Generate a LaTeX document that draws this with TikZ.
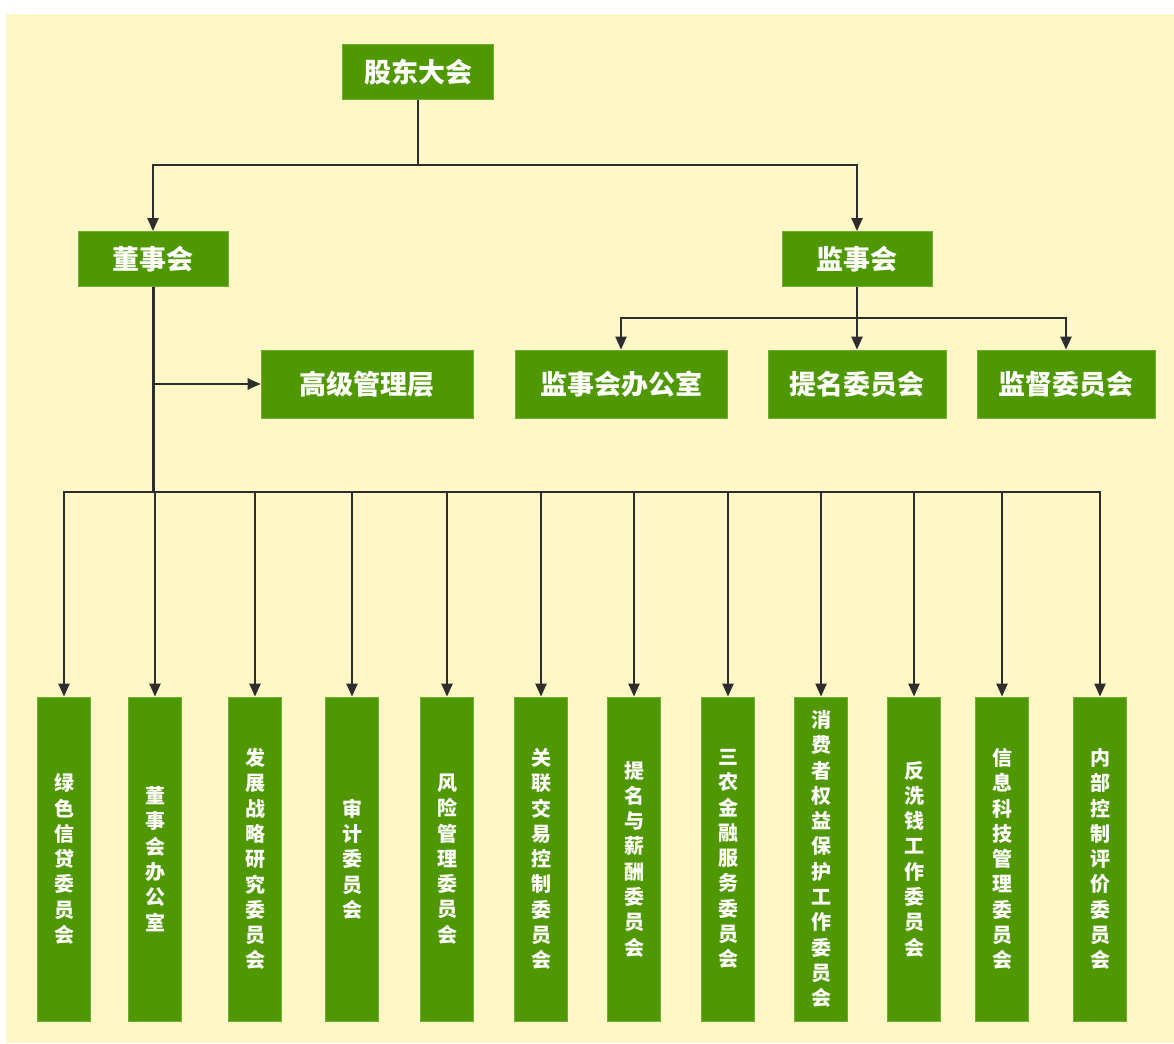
\documentclass[tikz,border=0pt]{standalone}
\usepackage{fontspec}
\newfontfamily\cjk{Noto Sans CJK SC}
\usetikzlibrary{arrows.meta,positioning}
\definecolor{bggold}{RGB}{255,248,198}
\definecolor{boxgreen}{RGB}{79,152,3}
\definecolor{boxedge}{RGB}{110,175,50}
\definecolor{linecol}{RGB}{45,45,45}
\tikzset{
  box/.style={fill=boxgreen, draw=boxedge, line width=0.8pt, text=white, inner sep=0pt, align=center},
  topbox/.style={box, minimum height=55pt, font=\cjk\bfseries\fontsize{27}{30}\selectfont},
  midbox/.style={box, minimum height=68pt, font=\cjk\bfseries\fontsize{27}{30}\selectfont},
  vbox/.style={box, minimum width=53pt, minimum height=324pt, font=\cjk\bfseries\fontsize{20}{25.3}\selectfont},
  conn/.style={draw=linecol, line width=2.2pt},
  arrow/.style={conn, -{Triangle[length=13pt,width=11pt]}},
  trunk/.style={draw=linecol, line width=3pt}
}
\begin{document}
\begin{tikzpicture}[x=1pt,y=-1pt]
\useasboundingbox (0,0) rectangle (1174,1043);
\fill[white] (0,0) rectangle (1174,1043);
\fill[bggold] (6,14) rectangle (1174,1043);

% top level
\node[topbox, minimum width=151pt] (gd) at (418,72) {股东大会};
\node[topbox, minimum width=150pt] (ds) at (153,259) {董事会};
\node[topbox, minimum width=150pt] (js) at (857,259) {监事会};

% middle level
\node[midbox, minimum width=212pt] (gj) at (367,384) {高级管理层};
\node[midbox, minimum width=212pt] (jb) at (621,384) {监事会办公室};
\node[midbox, minimum width=178pt] (tm) at (857,384) {提名委员会};
\node[midbox, minimum width=178pt] (jd) at (1066,384) {监督委员会};

% bottom level
\node[vbox] (b1) at (64,859) {绿\\色\\信\\贷\\委\\员\\会};
\node[vbox] (b2) at (155,859) {董\\事\\会\\办\\公\\室};
\node[vbox] (b3) at (255,859) {发\\展\\战\\略\\研\\究\\委\\员\\会};
\node[vbox] (b4) at (352,859) {审\\计\\委\\员\\会};
\node[vbox] (b5) at (447,859) {风\\险\\管\\理\\委\\员\\会};
\node[vbox] (b6) at (541,859) {关\\联\\交\\易\\控\\制\\委\\员\\会};
\node[vbox] (b7) at (634,859) {提\\名\\与\\薪\\酬\\委\\员\\会};
\node[vbox] (b8) at (728,859) {三\\农\\金\\融\\服\\务\\委\\员\\会};
\node[vbox] (b9) at (821,859) {消\\费\\者\\权\\益\\保\\护\\工\\作\\委\\员\\会};
\node[vbox] (b10) at (914,859) {反\\洗\\钱\\工\\作\\委\\员\\会};
\node[vbox] (b11) at (1002,859) {信\\息\\科\\技\\管\\理\\委\\员\\会};
\node[vbox] (b12) at (1100,859) {内\\部\\控\\制\\评\\价\\委\\员\\会};

% bus coordinates
\coordinate (topbus) at (418,165);
\coordinate (jsbus) at (857,318);
\coordinate (bus) at (153,492);

% shareholders -> boards
\draw[conn] (gd.south) -- (topbus);
\draw[arrow] (topbus) -| (ds.north);
\draw[arrow] (topbus) -| (js.north);

% supervisory board -> its units
\draw[conn] (js.south) -- (jsbus);
\draw[arrow] (jsbus) -| (jb.north);
\draw[arrow] (jsbus) -- (tm.north);
\draw[arrow] (jsbus) -| (jd.north);

% board trunk
\draw[trunk] (ds.south) -- (bus);
\draw[arrow] (ds.south |- gj.west) -- (gj.west);

% board -> committees
\foreach \b in {b1,b2,b3,b4,b5,b6,b7,b8,b9,b10,b11,b12}{
  \draw[arrow] (bus) -| (\b.north);
}
\end{tikzpicture}
\end{document}
